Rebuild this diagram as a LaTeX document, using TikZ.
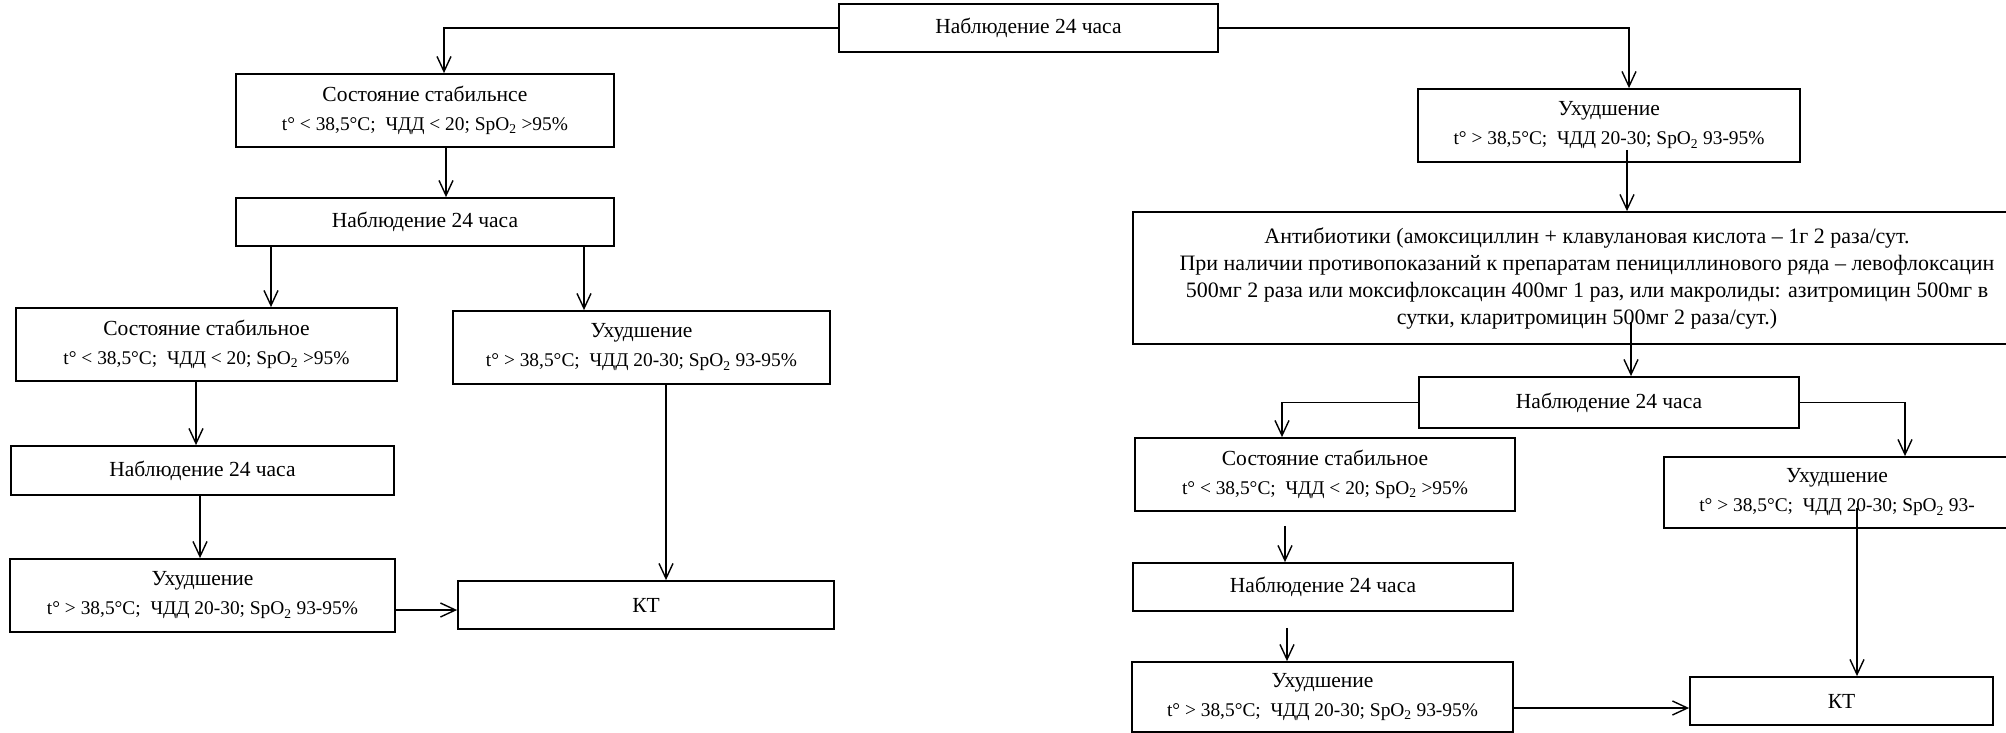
\documentclass[tikz,border=0pt]{standalone}
\usepackage{fontspec}
\setmainfont{Liberation Serif}
\usetikzlibrary{arrows.meta}
\newcommand\paramline[1]{{\fontsize{19.4}{29}\selectfont #1}}
\begin{document}
\begin{tikzpicture}[x=1pt,y=-1pt,
  box/.style={draw, line width=1.8pt, inner sep=0pt, align=center, font=\fontsize{21.5}{29}\selectfont},
  arr/.style={line width=1.4pt, -{Straight Barb[length=15pt,width=14pt,line width=1.4pt]}}]
\useasboundingbox (0,0) rectangle (2006,733);
% top
\node[box, minimum width=379pt, minimum height=48pt] (top) at (1028.5,28) {Наблюдение 24 часа};
% left column
\node[box, minimum width=378pt, minimum height=73pt] (A1) at (425,110.5) {Состояние стабильнсе\\\paramline{t° < 38,5°C;\ \ ЧДД < 20; SpO\textsubscript{2} >95\%}};
\node[box, minimum width=378pt, minimum height=48pt] (A2) at (425,222) {Наблюдение 24 часа};
\node[box, minimum width=381pt, minimum height=73pt] (B1) at (206.5,344.5) {Состояние стабильное\\\paramline{t° < 38,5°C;\ \ ЧДД < 20; SpO\textsubscript{2} >95\%}};
\node[box, minimum width=377pt, minimum height=73pt] (B2) at (641.5,347.5) {Ухудшение\\\paramline{t° > 38,5°C;\ \ ЧДД 20-30; SpO\textsubscript{2} 93-95\%}};
\node[box, minimum width=383pt, minimum height=49pt] (C1) at (202.5,470.5) {Наблюдение 24 часа};
\node[box, minimum width=385pt, minimum height=73pt] (D1) at (202.5,595.5) {Ухудшение\\\paramline{t° > 38,5°C;\ \ ЧДД 20-30; SpO\textsubscript{2} 93-95\%}};
\node[box, minimum width=376pt, minimum height=48pt] (KT1) at (646,605) {КТ};
% right column
\node[box, minimum width=382pt, minimum height=73pt] (R1) at (1609,125.5) {Ухудшение\\\paramline{t° > 38,5°C;\ \ ЧДД 20-30; SpO\textsubscript{2} 93-95\%}};
\node[box, minimum width=908pt, minimum height=132pt, font=\fontsize{22}{27}\selectfont] (R2) at (1587,278) {Антибиотики (амоксициллин + клавулановая кислота – 1г 2 раза/сут.\\При наличии противопоказаний к препаратам пенициллинового ряда – левофлоксацин\\500мг 2 раза или моксифлоксацин 400мг 1 раз, или макролиды: азитромицин 500мг в\\сутки, кларитромицин 500мг 2 раза/сут.)};
\node[box, minimum width=380pt, minimum height=51pt] (R3) at (1609,402.5) {Наблюдение 24 часа};
\node[box, minimum width=380pt, minimum height=73pt] (R4) at (1325,474.5) {Состояние стабильное\\\paramline{t° < 38,5°C;\ \ ЧДД < 20; SpO\textsubscript{2} >95\%}};
\node[box, minimum width=346pt, minimum height=71pt] (R5) at (1837,492.5) {Ухудшение\\\paramline{t° > 38,5°C;\ \ ЧДД 20-30; SpO\textsubscript{2} 93-}};
\node[box, minimum width=380pt, minimum height=48pt] (R3b) at (1323,587) {Наблюдение 24 часа};
\node[box, minimum width=381pt, minimum height=70pt] (R6) at (1322.5,697) {Ухудшение\\\paramline{t° > 38,5°C;\ \ ЧДД 20-30; SpO\textsubscript{2} 93-95\%}};
\node[box, minimum width=303pt, minimum height=48pt] (KT2) at (1841.5,701) {КТ};
% connectors
\draw[arr] (top.west) -| ([xshift=19pt]A1.north);
\draw[arr] (top.east) -| ([xshift=20pt]R1.north);
\draw[arr] ([xshift=21pt]A1.south) coordinate (p) -- (p |- A2.north);
\draw[arr] ([xshift=-154pt]A2.south) coordinate (p) -- (p |- B1.north);
\draw[arr] ([xshift=159pt]A2.south) coordinate (p) -- (p |- B2.north);
\draw[arr] ([xshift=-10.5pt]B1.south) coordinate (p) -- (p |- C1.north);
\draw[arr] ([xshift=-2.5pt]C1.south) coordinate (p) -- (p |- D1.north);
\draw[arr] ([yshift=-14.5pt]D1.east) coordinate (p) -- (p -| KT1.west);
\draw[arr] ([xshift=24.5pt]B2.south) coordinate (p) -- (p |- KT1.north);
\draw[arr] ([shift={(18pt,-24.5pt)}]R1.center) coordinate (p) -- (p |- R2.north);
\draw[arr] ([shift={(44pt,-44pt)}]R2.center) coordinate (p) -- (p |- R3.north);
\draw[arr] (R3.west) -| ([xshift=-43pt]R4.north);
\draw[arr] (R3.east) -| ([xshift=68pt]R5.north);
\draw[arr, shorten <=14pt] ([xshift=-40pt]R4.south) coordinate (p) -- (p |- R3b.north);
\draw[arr, shorten <=16pt] ([xshift=-36pt]R3b.south) coordinate (p) -- (p |- R6.north);
\draw[arr] ([shift={(20pt,-15.5pt)}]R5.center) coordinate (p) -- (p |- KT2.north);
\draw[arr] ([yshift=-11pt]R6.east) coordinate (p) -- (p -| KT2.west);
\end{tikzpicture}
\end{document}
